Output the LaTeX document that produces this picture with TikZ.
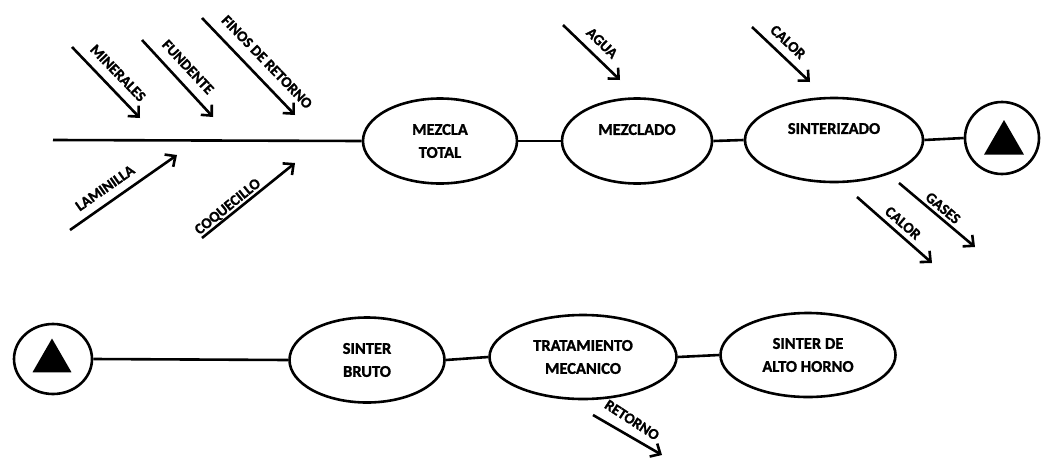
\documentclass[tikz,border=0pt]{standalone}
\usepackage{fontspec}
\setmainfont{Carlito}[BoldFont={Carlito Bold},BoldFeatures={FakeBold=1.3}]
\usetikzlibrary{shapes.geometric,arrows.meta}
\begin{document}
\begin{tikzpicture}[x=1pt,y=-1pt,
  proc/.style={draw,line width=2.6pt,ellipse,inner sep=0pt,align=center,font=\fontsize{16.5}{23}\selectfont\bfseries},
  tri/.style={regular polygon,regular polygon sides=3,fill=black,inner sep=0pt,minimum size=46pt},
  conn/.style={line width=2.6pt},
  arr/.style={line width=2.6pt,-{Straight Barb[length=8pt,width=15pt]}},
  lab/.style={font=\fontsize{15}{17}\selectfont\bfseries,inner sep=0pt}]
\useasboundingbox (0,0) rectangle (1041,474);
% top row
\node[proc,minimum width=154pt,minimum height=85pt] (mt) at (440,141) {MEZCLA\\TOTAL};
\node[proc,minimum width=150pt,minimum height=85pt] (mz) at (637,141) {MEZCLADO\\\mbox{}};
\node[proc,minimum width=178pt,minimum height=84pt] (si) at (834,140) {SINTERIZADO\\\mbox{}};
\node[draw,ellipse,line width=2.6pt,minimum width=74pt,minimum height=72pt,inner sep=0pt] (c1) at (1002,138) {};
\node[tri] (t1) at (1004,143) {};
\coordinate (spine) at (53,140);
\draw[conn] (spine) -- (mt.west);
\draw[conn] (mt.east) -- (mz.west);
\draw[conn] (mz.east) -- (si.west);
\draw[conn] (si.east) -- (c1.west);
% fishbone inputs
\coordinate (m1) at (72,47);  \coordinate (m2) at (140,118);
\coordinate (f1) at (142,40); \coordinate (f2) at (213,117);
\coordinate (r1) at (202,18); \coordinate (r2) at (295,115);
\coordinate (l1) at (70,230); \coordinate (l2) at (177,155);
\coordinate (q1) at (202,238); \coordinate (q2) at (295,163);
\coordinate (a1) at (563,25); \coordinate (a2) at (620,80);
\coordinate (h1) at (752,27); \coordinate (h2) at (810,82);
\coordinate (g1) at (899,183); \coordinate (g2) at (975,247);
\coordinate (k1) at (857,197); \coordinate (k2) at (932,263);
\draw[arr] (m1) -- (m2);
\draw[arr] (f1) -- (f2);
\draw[arr] (r1) -- (r2);
\draw[arr] (l1) -- (l2);
\draw[arr] (q1) -- (q2);
\draw[arr] (a1) -- (a2);
\draw[arr] (h1) -- (h2);
\draw[arr] (g1) -- (g2);
\draw[arr] (k1) -- (k2);
\node[lab,rotate=-46] (tm1) at (118,73) {MINERALES};
\node[lab,rotate=-47] (tf1) at (188,67) {FUNDENTE};
\node[lab,rotate=-46] (tr1) at (267,62) {FINOS DE RETORNO};
\node[lab,rotate=35] (tl1) at (105,188) {LAMINILLA};
\node[lab,rotate=39] (tq1) at (228,207) {COQUECILLO};
\node[lab,rotate=-44] (ta1) at (602,43) {AGUA};
\node[lab,rotate=-43] (th1) at (788,42) {CALOR};
\node[lab,rotate=-40] (tg1) at (943,208) {GASES};
\node[lab,rotate=-41] (tk1) at (903,223) {CALOR};
% bottom row
\node[draw,ellipse,line width=2.6pt,minimum width=78pt,minimum height=70pt,inner sep=0pt] (c2) at (53,359) {};
\node[tri,minimum size=45pt] (t2) at (52,361) {};
\node[proc,minimum width=155pt,minimum height=85pt] (sb) at (367,360) {SINTER\\BRUTO};
\node[proc,minimum width=187pt,minimum height=84pt] (tm) at (583,357) {TRATAMIENTO\\MECANICO};
\node[proc,minimum width=175pt,minimum height=84pt] (ah) at (808,355) {SINTER DE\\ALTO HORNO};
\draw[conn] (c2.east) -- (sb.west);
\draw[conn] (sb.east) -- (tm.west);
\draw[conn] (tm.east) -- (ah.west);
\coordinate (e1) at (593,415); \coordinate (e2) at (662,455);
\draw[arr] (e1) -- (e2);
\node[lab,rotate=-33] (te1) at (632,420) {RETORNO};
\end{tikzpicture}
\end{document}
